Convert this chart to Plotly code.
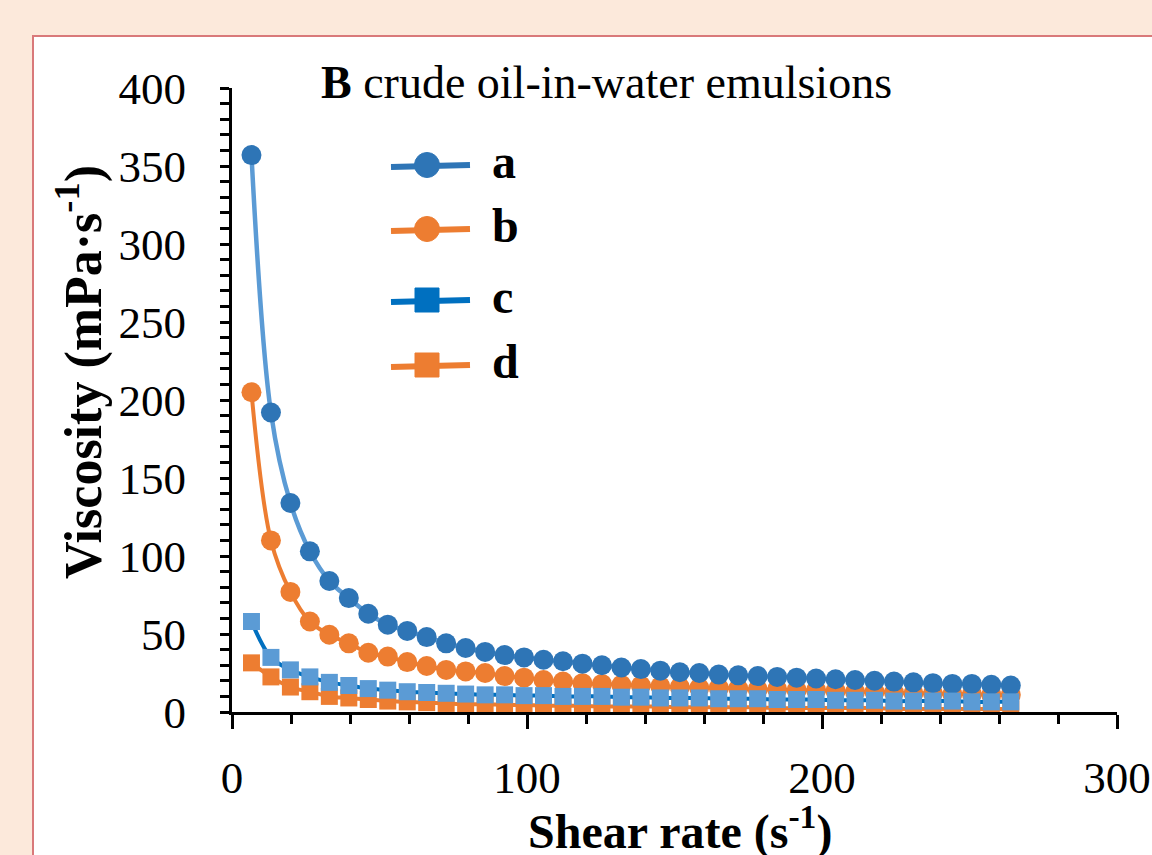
import plotly.graph_objects as go

shear_rate = [6.6, 13.2, 19.8, 26.4, 33.0, 39.6, 46.2, 52.8, 59.4, 66.0,
              72.6, 79.2, 85.8, 92.4, 99.0, 105.6, 112.2, 118.8, 125.4, 132.0,
              138.6, 145.2, 151.8, 158.4, 165.0, 171.6, 178.2, 184.8, 191.4, 198.0,
              204.6, 211.2, 217.8, 224.4, 231.0, 237.6, 244.2, 250.8, 257.4, 264.0]

visc_a = [357, 192, 134, 103, 84, 73, 63, 56, 52, 48,
          44, 41, 38.5, 36.5, 35, 33.5, 32.5, 31, 30, 28.5,
          27.5, 26.5, 25.5, 25, 24, 23.5, 23, 22.5, 22, 21.5,
          21, 20.5, 20, 19.5, 19, 18.5, 18, 18, 17.5, 17]
visc_b = [205, 110, 77, 58, 49.5, 44, 38, 35.5, 32, 29.5,
          27, 26, 25, 23, 22, 20.5, 19.5, 18.5, 18, 17.5,
          17, 16.5, 16, 15.5, 15.5, 15, 14.5, 14.5, 14, 14,
          13.5, 13, 13, 12.5, 12, 12, 11.5, 11.5, 11, 11]
visc_c = [58, 35, 27, 22.5, 19, 17, 15, 14, 13, 12.5,
          12, 11.5, 11, 11, 10.5, 10.5, 10, 10, 10, 9.5,
          9.5, 9, 9, 9, 8.5, 8.5, 8.5, 8, 8, 8,
          7.5, 7.5, 7.5, 7, 7, 7, 7, 6.5, 6.5, 6.5]
visc_d = [31.5, 22.5, 16, 13, 10, 9, 8, 7, 6.5, 6,
          5.5, 5, 5, 4.5, 4.5, 4, 4, 4, 3.5, 3.5,
          3.5, 3.5, 3, 3, 3, 3, 3, 2.5, 2.5, 2.5,
          2.5, 2.5, 2.5, 2, 2, 2, 2, 2, 2, 2]

series_names = ["a", "b", "c", "d"]
x_ticks = [0, 100, 200, 300]
y_ticks = [0, 50, 100, 150, 200, 250, 300, 350, 400]

W, H = 1152, 855
L, R, T, B = 232, 35, 88, 143
pw, ph = W - L - R, H - T - B

def px_x(p):
    return (p - L) / pw

def px_y(p):
    return (H - B - p) / ph

FONT = "Liberation Serif"
BLUE_D = "#2E75B6"
BLUE_L = "#5B9BD5"
BLUE_C = "#0070C0"
ORANGE = "#ED7D31"

fig = go.Figure()
# draw order: b, a, d, c
fig.add_trace(go.Scatter(x=shear_rate, y=visc_b, name="b", mode="lines+markers",
                         line=dict(color=ORANGE, width=4, shape="spline"),
                         marker=dict(symbol="circle", size=20, color=ORANGE)))
fig.add_trace(go.Scatter(x=shear_rate, y=visc_a, name="a", mode="lines+markers",
                         line=dict(color=BLUE_L, width=4.5, shape="spline"),
                         marker=dict(symbol="circle", size=20, color=BLUE_D)))
fig.add_trace(go.Scatter(x=shear_rate, y=visc_d, name="d", mode="lines+markers",
                         line=dict(color=ORANGE, width=4, shape="spline"),
                         marker=dict(symbol="square", size=17, color=ORANGE)))
fig.add_trace(go.Scatter(x=shear_rate, y=visc_c, name="c", mode="lines+markers",
                         line=dict(color=BLUE_C, width=4, shape="spline"),
                         marker=dict(symbol="square", size=17, color=BLUE_L)))

fig.update_layout(
    width=W, height=H,
    margin=dict(l=L, r=R, t=T, b=B, autoexpand=False),
    paper_bgcolor="#FCE9DB",
    plot_bgcolor="white",
    showlegend=False,
    font=dict(family=FONT, color="black"),
)

fig.update_xaxes(range=[0, 300], tickvals=x_ticks, ticktext=[str(v) for v in x_ticks],
                 automargin=False,
                 showline=True, linecolor="black", linewidth=3,
                 ticks="outside", ticklen=14, tickwidth=3, tickcolor="black",
                 minor=dict(dtick=20, ticks="outside", ticklen=9, tickwidth=3, tickcolor="black"),
                 showgrid=False, zeroline=False,
                 tickfont=dict(family=FONT, size=45, color="black"),
                 ticklabelstandoff=10)
fig.update_yaxes(range=[0, 400], tickvals=y_ticks, ticktext=[str(v) for v in y_ticks],
                 automargin=False,
                 showline=True, linecolor="black", linewidth=3,
                 ticks="outside", ticklen=9, tickwidth=3, tickcolor="black",
                 minor=dict(dtick=10, ticks="outside", ticklen=9, tickwidth=3, tickcolor="black"),
                 showgrid=False, zeroline=False,
                 tickfont=dict(family=FONT, size=45, color="black"),
                 ticklabelstandoff=25)

# white panel with red border
fig.add_shape(type="rect", xref="paper", yref="paper",
              x0=px_x(33), x1=px_x(1200), y0=px_y(900), y1=px_y(36),
              fillcolor="white", line=dict(color="#D9797A", width=2), layer="below")

# custom legend (larger glyphs than the native legend allows)
leg_y = [165, 229, 300, 365]
leg_line = [BLUE_D, ORANGE, BLUE_C, ORANGE]
leg_fill = [BLUE_D, ORANGE, BLUE_C, ORANGE]
leg_sym = ["circle", "circle", "square", "square"]
for name, yc, lc, fc, sym in zip(series_names, leg_y, leg_line, leg_fill, leg_sym):
    fig.add_shape(type="line", xref="paper", yref="paper",
                  x0=px_x(391), x1=px_x(470), y0=px_y(yc + 2), y1=px_y(yc),
                  line=dict(color=lc, width=6))
    r = 12.5 if sym == "circle" else 12
    xc = 427
    fig.add_shape(type="circle" if sym == "circle" else "rect", xref="paper", yref="paper",
                  x0=px_x(xc - r), x1=px_x(xc + r), y0=px_y(yc + r), y1=px_y(yc - r),
                  fillcolor=fc, line=dict(color=fc, width=1))
    fig.add_annotation(text="<b>%s</b>" % name, xref="paper", yref="paper",
                       x=px_x(490), y=px_y(yc - 4), xanchor="left", yanchor="middle",
                       showarrow=False, font=dict(family=FONT, size=48, color="black"))

fig.add_annotation(text="<b>B</b> crude oil-in-water emulsions", xref="paper", yref="paper",
                   x=px_x(606), y=px_y(82), xanchor="center", yanchor="middle",
                   showarrow=False, font=dict(family=FONT, size=46, color="black"))
fig.add_annotation(text="<b>Shear rate (s<sup>-1</sup>)</b>", xref="paper", yref="paper",
                   x=px_x(680), y=px_y(828), xanchor="center", yanchor="middle",
                   showarrow=False, font=dict(family=FONT, size=48, color="black"))
fig.add_annotation(text="<b>Viscosity (mPa·s<sup>-1</sup>)</b>", xref="paper", yref="paper",
                   x=px_x(80), y=px_y(372), xanchor="center", yanchor="middle",
                   textangle=-90,
                   showarrow=False, font=dict(family=FONT, size=52, color="black"))

fig.write_html("out.html", config={"displayModeBar": False},
               post_script="document.body.style.margin='0px';")
